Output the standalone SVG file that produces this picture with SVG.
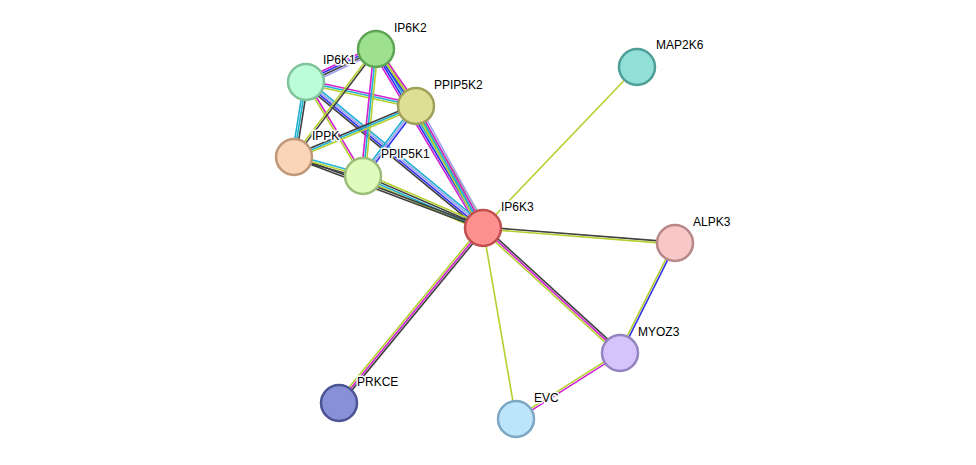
<svg xmlns="http://www.w3.org/2000/svg" width="976" height="465" viewBox="0 0 976 465">
<style>
line{stroke-width:1.6}
.k{stroke:#404040}.c{stroke:#20b0d0}.b{stroke:#3030f0}.m{stroke:#d020d0}.y{stroke:#b4d030}.l{stroke:#a0a0f0}
circle{stroke-width:2.5}
text{font-family:"Liberation Sans",Arial,sans-serif;font-size:12px;fill:#000;stroke:#fff;stroke-width:3;paint-order:stroke;stroke-linejoin:round}
</style>
<rect width="976" height="465" fill="#fff"/>
<g id="connectors">
<g transform="translate(483,228) rotate(-120.9)"><line class="m" x1="0" y1="-4" x2="208.5" y2="-4"/><line class="b" x1="0" y1="-2" x2="208.5" y2="-2"/><line class="c" x1="0" y1="0" x2="208.5" y2="0"/><line class="y" x1="0" y1="2" x2="208.5" y2="2"/><line class="y" x1="0" y1="4" x2="208.5" y2="4"/></g>
<g transform="translate(483,228) rotate(-118.8)"><line class="y" x1="0" y1="-3" x2="139.2" y2="-3"/><line class="c" x1="0" y1="-1" x2="139.2" y2="-1"/><line class="m" x1="0" y1="1" x2="139.2" y2="1"/><line class="l" x1="0" y1="3" x2="139.2" y2="3"/></g>
<g transform="translate(483,228) rotate(-140.5)"><line class="k" x1="0" y1="-3" x2="229.4" y2="-3"/><line class="b" x1="0" y1="-1" x2="229.4" y2="-1"/><line class="l" x1="0" y1="1" x2="229.4" y2="1"/><line class="c" x1="0" y1="3" x2="229.4" y2="3"/></g>
<g transform="translate(483,228) rotate(-156.6)"><line class="y" x1="0" y1="-3" x2="130.8" y2="-3"/><line class="c" x1="0" y1="-1" x2="130.8" y2="-1"/><line class="k" x1="0" y1="1" x2="130.8" y2="1"/><line class="y" x1="0" y1="3" x2="130.8" y2="3"/></g>
<g transform="translate(483,228) rotate(-159.4)"><line class="k" x1="0" y1="-1" x2="201.9" y2="-1"/><line class="k" x1="0" y1="1" x2="201.9" y2="1"/></g>
<line class="y" x1="483" y1="228" x2="637" y2="67"/>
<g transform="translate(483,228) rotate(4.5)"><line class="k" x1="0" y1="-1" x2="192.6" y2="-1"/><line class="y" x1="0" y1="1" x2="192.6" y2="1"/></g>
<g transform="translate(483,228) rotate(42.4)"><line class="k" x1="0" y1="-2" x2="185.5" y2="-2"/><line class="m" x1="0" y1="0" x2="185.5" y2="0"/><line class="y" x1="0" y1="2" x2="185.5" y2="2"/></g>
<line class="y" x1="483" y1="228" x2="516" y2="419"/>
<g transform="translate(483,228) rotate(129.5)"><line class="k" x1="0" y1="-2" x2="226.6" y2="-2"/><line class="m" x1="0" y1="0" x2="226.6" y2="0"/><line class="y" x1="0" y1="2" x2="226.6" y2="2"/></g>
<g transform="translate(675,243) rotate(116.6)"><line class="b" x1="0" y1="-1" x2="123" y2="-1"/><line class="y" x1="0" y1="1" x2="123" y2="1"/></g>
<g transform="translate(620,353) rotate(147.6)"><line class="m" x1="0" y1="-1" x2="123.2" y2="-1"/><line class="y" x1="0" y1="1" x2="123.2" y2="1"/></g>
<g transform="translate(306,82) rotate(-25.2)"><line class="m" x1="0" y1="-3" x2="77.4" y2="-3"/><line class="b" x1="0" y1="-1" x2="77.4" y2="-1"/><line class="k" x1="0" y1="1" x2="77.4" y2="1"/><line class="l" x1="0" y1="3" x2="77.4" y2="3"/></g>
<g transform="translate(306,82) rotate(99.1)"><line class="k" x1="0" y1="-2" x2="76" y2="-2"/><line class="c" x1="0" y1="0" x2="76" y2="0"/><line class="c" x1="0" y1="2" x2="76" y2="2"/></g>
<g transform="translate(306,82) rotate(12.3)"><line class="m" x1="0" y1="-2" x2="112.6" y2="-2"/><line class="c" x1="0" y1="0" x2="112.6" y2="0"/><line class="y" x1="0" y1="2" x2="112.6" y2="2"/></g>
<g transform="translate(306,82) rotate(58.8)"><line class="m" x1="0" y1="-1" x2="110" y2="-1"/><line class="y" x1="0" y1="1" x2="110" y2="1"/></g>
<g transform="translate(376,49) rotate(127.2)"><line class="k" x1="0" y1="-1" x2="135.6" y2="-1"/><line class="y" x1="0" y1="1" x2="135.6" y2="1"/></g>
<g transform="translate(376,49) rotate(95.8)"><line class="y" x1="0" y1="-2" x2="127.7" y2="-2"/><line class="c" x1="0" y1="0" x2="127.7" y2="0"/><line class="m" x1="0" y1="2" x2="127.7" y2="2"/></g>
<g transform="translate(376,49) rotate(54.9)"><line class="m" x1="0" y1="-2" x2="69.6" y2="-2"/><line class="y" x1="0" y1="0" x2="69.6" y2="0"/><line class="b" x1="0" y1="2" x2="69.6" y2="2"/></g>
<g transform="translate(294,157) rotate(-22.7)"><line class="k" x1="0" y1="-2" x2="132.2" y2="-2"/><line class="c" x1="0" y1="0" x2="132.2" y2="0"/><line class="y" x1="0" y1="2" x2="132.2" y2="2"/></g>
<g transform="translate(294,157) rotate(15.4)"><line class="c" x1="0" y1="-2" x2="71.6" y2="-2"/><line class="y" x1="0" y1="0" x2="71.6" y2="0"/><line class="k" x1="0" y1="2" x2="71.6" y2="2"/></g>
<g transform="translate(416,106) rotate(127.1)"><line class="b" x1="0" y1="-2" x2="87.8" y2="-2"/><line class="l" x1="0" y1="0" x2="87.8" y2="0"/><line class="c" x1="0" y1="2" x2="87.8" y2="2"/></g>
</g>
<g id="IP6K2"><circle cx="376" cy="49" r="18" fill="#9de08f" stroke="#5ea556"/><text x="394" y="32">IP6K2</text></g>
<g id="IP6K1"><circle cx="306" cy="82" r="18" fill="#bdfcd8" stroke="#7fc49a"/><text x="323" y="64">IP6K1</text></g>
<g id="PPIP5K2"><circle cx="416" cy="106" r="18" fill="#dede94" stroke="#a0a05a"/><text x="434" y="89">PPIP5K2</text></g>
<g id="IPPK"><circle cx="294" cy="157" r="18" fill="#fbd5b8" stroke="#c09878"/><text x="312" y="140">IPPK</text></g>
<g id="PPIP5K1"><circle cx="363" cy="176" r="18" fill="#e0fcbd" stroke="#9cbc7a"/><text x="381" y="158">PPIP5K1</text></g>
<g id="IP6K3"><circle cx="483" cy="228" r="18" fill="#ff9090" stroke="#c05050"/><text x="501" y="211">IP6K3</text></g>
<g id="MAP2K6"><circle cx="637" cy="67" r="18" fill="#90e0d8" stroke="#4f9e97"/><text x="656" y="49">MAP2K6</text></g>
<g id="ALPK3"><circle cx="675" cy="243" r="18" fill="#f8c8c8" stroke="#b88888"/><text x="693" y="226">ALPK3</text></g>
<g id="MYOZ3"><circle cx="620" cy="353" r="18" fill="#d4c4fb" stroke="#9484c0"/><text x="638" y="336">MYOZ3</text></g>
<g id="EVC"><circle cx="516" cy="419" r="18" fill="#bce4fb" stroke="#7ca8c4"/><text x="534" y="402">EVC</text></g>
<g id="PRKCE"><circle cx="339" cy="403" r="18" fill="#8890d8" stroke="#4c5494"/><text x="357" y="386">PRKCE</text></g>
</svg>
